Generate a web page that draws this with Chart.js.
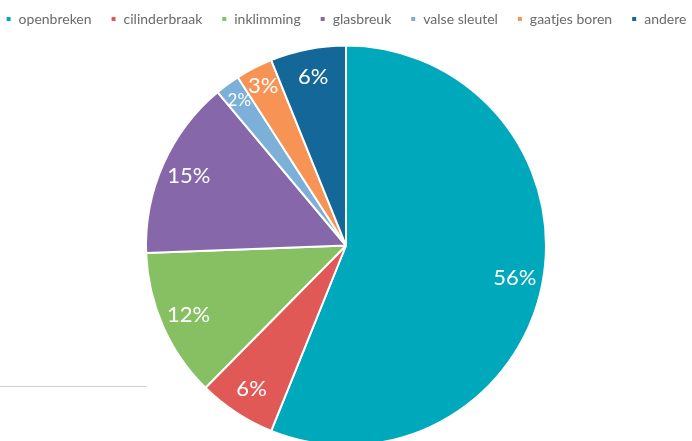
<!DOCTYPE html>
<html>
<head>
<meta charset="utf-8">
<script src="https://cdn.jsdelivr.net/npm/chart.js@4"></script>
<style>
  html, body { margin: 0; padding: 0; background: #fff; overflow: hidden; width: 692px; height: 441px; position: relative; }
  #wrap { position: absolute; left: -24px; top: -7px; width: 740px; height: 462px; }
  #rule { position: absolute; left: 0; top: 386px; width: 146px; height: 1px; background: #cfcfcf; }
</style>
</head>
<body>
<div id="rule"></div>
<div id="wrap"><canvas id="c"></canvas></div>
<script>
const categories = ['openbreken', 'cilinderbraak', 'inklimming', 'glasbreuk', 'valse sleutel', 'gaatjes boren', 'andere'];
const values = [56.1, 6.3, 12.0, 14.5, 2.0, 3.0, 6.1];
const valueLabels = ['56%', '6%', '12%', '15%', '2%', '3%', '6%'];
const colors = ['#00A8BC', '#E15956', '#86C062', '#8667AA', '#7DB0D9', '#F79455', '#136899'];

const labelPlugin = {
  id: 'sliceLabels',
  afterDatasetsDraw(chart) {
    const ctx = chart.ctx;
    const meta = chart.getDatasetMeta(0);
    meta.data.forEach((arc, i) => {
      const p = arc.getProps(['x', 'y', 'startAngle', 'endAngle', 'outerRadius'], true);
      const mid = (p.startAngle + p.endAngle) / 2;
      const small = values[i] < 4;
      const r = p.outerRadius * (small ? 0.9 : 0.86);
      const tx = p.x + Math.cos(mid) * r;
      const ty = p.y + Math.sin(mid) * r;
      ctx.save();
      ctx.fillStyle = '#ffffff';
      ctx.font = (values[i] < 2.5 ? '17px' : '22px') + ' Lato, "Open Sans", sans-serif';
      ctx.textAlign = 'center';
      ctx.textBaseline = 'middle';
      ctx.fillText(valueLabels[i], tx, ty);
      ctx.restore();
    });
  }
};

new Chart(document.getElementById('c'), {
  type: 'pie',
  data: {
    labels: categories,
    datasets: [{
      data: values,
      backgroundColor: colors,
      borderColor: '#ffffff',
      borderWidth: 2,
      radius: 200
    }]
  },
  options: {
    responsive: true,
    maintainAspectRatio: false,
    animation: false,
    layout: { padding: 0 },
    plugins: {
      tooltip: { enabled: false },
      legend: {
        position: 'top',
        labels: {
          boxWidth: 6,
          boxHeight: 6,
          padding: 19,
          color: '#6a6a6a',
          font: { family: 'Lato, "Open Sans", sans-serif', size: 14 }
        }
      }
    }
  },
  plugins: [labelPlugin]
});
</script>
</body>
</html>
